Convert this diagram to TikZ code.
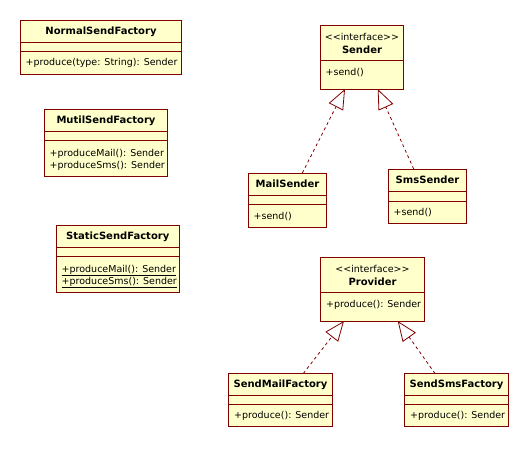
\documentclass[tikz,border=0pt]{standalone}
\usepackage{fontspec}
\setmainfont{DejaVu Sans}
\usetikzlibrary{arrows.meta}
\definecolor{umlfill}{RGB}{255,255,204}
\definecolor{umlline}{RGB}{128,0,0}
% class box: name, x1, y1, x2, y2, divider1, divider2
\newcommand\umlclassbox[7]{%
  \node[box, minimum width=#4-#2, minimum height=#5-#3] (#1) at (#2,#3) {};
  \draw[divline] (#2,#6) -- (#4,#6);
  \draw[divline] (#2,#7) -- (#4,#7);
}
% interface box: name, x1, y1, x2, y2, divider
\newcommand\umlifacebox[6]{%
  \node[box, minimum width=#4-#2, minimum height=#5-#3] (#1) at (#2,#3) {};
  \draw[divline] (#2,#6) -- (#4,#6);
}
\newcommand\umlstereo[1]{<\kern0pt<#1>\kern0pt>}
\begin{document}
\begin{tikzpicture}[x=1pt,y=-1pt,
  box/.style={draw=umlline, fill=umlfill, line width=1pt, inner sep=0pt, outer sep=0pt, anchor=north west},
  divline/.style={draw=umlline, line width=1pt},
  title/.style={anchor=base, inner sep=0pt, font=\fontsize{10}{12}\selectfont\bfseries},
  stereo/.style={anchor=base, inner sep=0pt, font=\fontsize{9.5}{12}\selectfont},
  op/.style={anchor=base west, inner sep=0pt, font=\fontsize{9.5}{12}\selectfont},
  realize/.style={draw=umlline, line width=0.8pt, dash pattern=on 3pt off 3pt,
    -{Triangle[open, length=20pt, width=16pt, line width=0.8pt]}}
]
\useasboundingbox (0,0) rectangle (529,448);

% NormalSendFactory
\umlclassbox{normal}{20.5}{20.5}{181.5}{74}{42.5}{51.5}
\node[title] (normalname) at (101,34.7) {NormalSendFactory};
\node[op] (normalop) at (25.5,65.7) {+produce(type: String): Sender};

% MutilSendFactory
\umlclassbox{mutil}{44.5}{109.5}{167.5}{176}{131}{140.5}
\node[title] (mutilname) at (106,123.3) {MutilSendFactory};
\node[op] (mutilop1) at (49.5,156) {+produceMail(): Sender};
\node[op] (mutilop2) at (49.5,168.3) {+produceSms(): Sender};

% StaticSendFactory
\umlclassbox{static}{56}{225.5}{179.5}{292.5}{247}{256.5}
\node[title] (staticname) at (117.75,239.5) {StaticSendFactory};
\node[op] (staticop1) at (61.5,272) {\underline{+produceMail(): Sender}};
\node[op] (staticop2) at (61.5,284.3) {\underline{+produceSms(): Sender}};

% Sender interface
\umlifacebox{sender}{320.5}{25}{403.5}{89}{60.7}
\node[stereo] (senderst) at (362,40.3) {\umlstereo{interface}};
\node[title] (sendername) at (362,53.3) {Sender};
\node[op] (senderop) at (325.5,75.3) {+send()};

% MailSender
\umlclassbox{mail}{248.5}{173}{326.5}{227.5}{195.7}{204.7}
\node[title] (mailname) at (287.5,187) {MailSender};
\node[op] (mailop) at (253.5,219.3) {+send()};

% SmsSender
\umlclassbox{sms}{388.5}{169}{466.5}{223}{191.3}{201}
\node[title] (smsname) at (427.5,183) {SmsSender};
\node[op] (smsop) at (393.5,215.5) {+send()};

% Provider interface
\umlifacebox{provider}{320.5}{257.5}{424.5}{321}{292.5}
\node[stereo] (providerst) at (372.5,272.8) {\umlstereo{interface}};
\node[title] (providername) at (372.5,285.8) {Provider};
\node[op] (providerop) at (326,307) {+produce(): Sender};

% SendMailFactory
\umlclassbox{mailfac}{228.5}{373.5}{332.5}{426.5}{395}{404}
\node[title] (mailfacname) at (280.5,387.5) {SendMailFactory};
\node[op] (mailfacop) at (234,418.5) {+produce(): Sender};

% SendSmsFactory
\umlclassbox{smsfac}{404.5}{373.5}{508.5}{426.5}{395}{404}
\node[title] (smsfacname) at (456.5,387.5) {SendSmsFactory};
\node[op] (smsfacop) at (410,418.5) {+produce(): Sender};

% realizations
\draw[realize] ([xshift=14.8pt]mail.north) -- ([xshift=-17pt]sender.south);
\draw[realize] ([xshift=-13.8pt]sms.north) -- ([xshift=15.7pt]sender.south);
\draw[realize] ([xshift=22.8pt]mailfac.north) -- ([xshift=-28.5pt]provider.south);
\draw[realize] ([xshift=-21.5pt]smsfac.north) -- ([xshift=25.2pt]provider.south);
\end{tikzpicture}
\end{document}
